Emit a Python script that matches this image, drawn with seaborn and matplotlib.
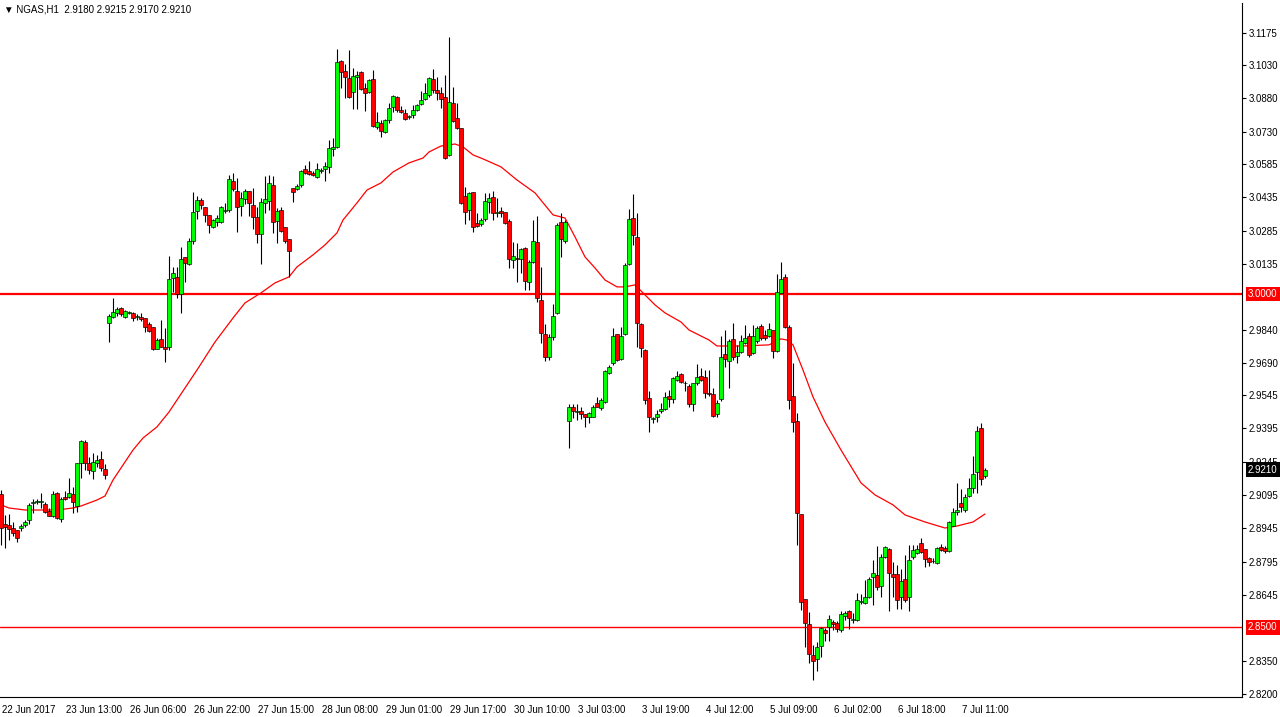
import numpy as np
import pandas as pd
import matplotlib
matplotlib.use("Agg")
import matplotlib.pyplot as plt
from matplotlib.transforms import ScaledTranslation, blended_transform_factory
import seaborn as sns

# set style of visualization
sns.set_style("white")
plt.rcParams["font.family"] = ["Liberation Sans", "DejaVu Sans"]

# =============================================================================
# Data (NGAS, H1)
# =============================================================================

opens = [
    2.9100, 2.8965, 2.8961, 2.8947, 2.8938, 2.8947, 2.8961, 2.8983, 2.9060, 2.9064,
    2.9064, 2.9055, 2.9024, 2.9001, 2.9105, 2.8988, 2.9087, 2.9087, 2.9100, 2.9046,
    2.9240, 2.9334, 2.9240, 2.9204, 2.9240, 2.9258, 2.9213, 2.9870, 2.9897, 2.9915,
    2.9937, 2.9897, 2.9915, 2.9915, 2.9897, 2.9897, 2.9892, 2.9865, 2.9852, 2.9753,
    2.9798, 2.9762, 2.9762, 3.0072, 3.0077, 3.0000, 3.0167, 3.0135, 3.0239, 3.0374,
    3.0423, 3.0392, 3.0356, 3.0302, 3.0324, 3.0324, 3.0374, 3.0378, 3.0509, 3.0464,
    3.0396, 3.0428, 3.0464, 3.0401, 3.0347, 3.0270, 3.0410, 3.0419, 3.0491, 3.0329,
    3.0378, 3.0302, 3.0248, 3.0477, 3.0473, 3.0491, 3.0563, 3.0554, 3.0545, 3.0527,
    3.0554, 3.0563, 3.0572, 3.0653, 3.0662, 3.1049, 3.1004, 3.0972, 3.0909, 3.0977,
    3.0999, 3.0927, 3.0909, 3.0968, 3.0752, 3.0770, 3.0729, 3.0783, 3.0842, 3.0887,
    3.0828, 3.0815, 3.0797, 3.0806, 3.0828, 3.0855, 3.0878, 3.0896, 3.0968, 3.0918,
    3.0905, 3.0887, 3.0626, 3.0860, 3.0792, 3.0747, 3.0441, 3.0378, 3.0459, 3.0320,
    3.0315, 3.0338, 3.0414, 3.0437, 3.0365, 3.0374, 3.0369, 3.0329, 3.0153, 3.0162,
    3.0158, 3.0207, 3.0054, 3.0144, 3.0234, 2.9973, 2.9820, 2.9717, 2.9807, 2.9915,
    3.0324, 3.0239, 2.9429, 2.9492, 2.9469, 2.9474, 2.9460, 2.9447, 2.9447, 2.9510,
    2.9487, 2.9514, 2.9645, 2.9690, 2.9820, 2.9708, 2.9820, 3.0135, 3.0342, 3.0257,
    2.9865, 2.9748, 2.9532, 2.9438, 2.9447, 2.9474, 2.9483, 2.9541, 2.9528, 2.9613,
    2.9640, 2.9600, 2.9586, 2.9505, 2.9600, 2.9631, 2.9627, 2.9555, 2.9550, 2.9460,
    2.9528, 2.9730, 2.9699, 2.9798, 2.9721, 2.9739, 2.9780, 2.9811, 2.9735, 2.9789,
    2.9856, 2.9816, 2.9811, 2.9838, 2.9744, 3.0005, 3.0077, 2.9852, 2.9541, 2.9429,
    2.9010, 2.8628, 2.8515, 2.8376, 2.8358, 2.8416, 2.8488, 2.8502, 2.8524, 2.8520,
    2.8488, 2.8551, 2.8574, 2.8533, 2.8533, 2.8616, 2.8610, 2.8637, 2.8727, 2.8736,
    2.8686, 2.8817, 2.8853, 2.8740, 2.8740, 2.8637, 2.8718, 2.8637, 2.8817, 2.8835,
    2.8880, 2.8853, 2.8812, 2.8798, 2.8790, 2.8862, 2.8857, 2.8844, 2.8956, 2.9019,
    2.9060, 2.9028, 2.9091, 2.9127, 2.9199, 2.9397, 2.9180,
]

highs = [
    2.9118, 2.9006, 2.9010, 2.8974, 2.8938, 2.8965, 2.8983, 2.9060, 2.9078, 2.9078,
    2.9105, 2.9064, 2.9037, 2.9114, 2.9109, 2.9087, 2.9114, 2.9172, 2.9132, 2.9240,
    2.9343, 2.9343, 2.9267, 2.9285, 2.9276, 2.9294, 2.9235, 2.9910, 2.9982, 2.9942,
    2.9942, 2.9928, 2.9924, 2.9919, 2.9910, 2.9915, 2.9892, 2.9874, 2.9852, 2.9802,
    2.9883, 2.9847, 3.0171, 3.0122, 3.0122, 3.0212, 3.0167, 3.0252, 3.0459, 3.0441,
    3.0432, 3.0392, 3.0356, 3.0338, 3.0356, 3.0396, 3.0410, 3.0536, 3.0545, 3.0522,
    3.0459, 3.0473, 3.0464, 3.0477, 3.0392, 3.0432, 3.0531, 3.0536, 3.0531, 3.0387,
    3.0392, 3.0302, 3.0248, 3.0477, 3.0495, 3.0558, 3.0581, 3.0599, 3.0554, 3.0590,
    3.0567, 3.0594, 3.0693, 3.0702, 3.1103, 3.1053, 3.1035, 3.1098, 3.1017, 3.1004,
    3.1004, 3.0950, 3.0968, 3.1008, 3.0819, 3.0783, 3.0788, 3.0860, 3.0896, 3.0891,
    3.0846, 3.0833, 3.0806, 3.0851, 3.0855, 3.0914, 3.0950, 3.0977, 3.1013, 3.0977,
    3.0932, 3.0986, 3.1157, 3.0932, 3.0860, 3.0747, 3.0482, 3.0459, 3.0459, 3.0365,
    3.0342, 3.0455, 3.0455, 3.0464, 3.0432, 3.0392, 3.0369, 3.0338, 3.0234, 3.0230,
    3.0207, 3.0212, 3.0153, 3.0333, 3.0351, 3.0122, 2.9865, 2.9820, 2.9955, 3.0320,
    3.0365, 3.0333, 2.9505, 2.9505, 2.9505, 2.9492, 2.9460, 2.9469, 2.9501, 2.9537,
    2.9532, 2.9658, 2.9681, 2.9847, 2.9820, 2.9852, 3.0140, 3.0383, 3.0450, 3.0365,
    2.9870, 2.9753, 2.9564, 2.9447, 2.9478, 2.9510, 2.9559, 2.9568, 2.9627, 2.9654,
    2.9645, 2.9609, 2.9595, 2.9600, 2.9685, 2.9667, 2.9658, 2.9658, 2.9577, 2.9523,
    2.9811, 2.9838, 2.9798, 2.9870, 2.9771, 2.9816, 2.9860, 2.9825, 2.9860, 2.9856,
    2.9865, 2.9838, 2.9870, 2.9838, 3.0090, 3.0144, 3.0090, 2.9861, 2.9690, 2.9465,
    2.9010, 2.8628, 2.8569, 2.8421, 2.8434, 2.8502, 2.8497, 2.8556, 2.8533, 2.8529,
    2.8574, 2.8574, 2.8578, 2.8565, 2.8655, 2.8650, 2.8713, 2.8727, 2.8803, 2.8866,
    2.8830, 2.8866, 2.8857, 2.8794, 2.8781, 2.8763, 2.8826, 2.8871, 2.8871, 2.8871,
    2.8902, 2.8853, 2.8817, 2.8812, 2.8862, 2.8875, 2.8866, 2.8979, 2.9037, 2.9150,
    2.9123, 2.9100, 2.9172, 2.9271, 2.9406, 2.9420, 2.9215,
]

lows = [
    2.8871, 2.8857, 2.8893, 2.8911, 2.8884, 2.8934, 2.8952, 2.8965, 2.9015, 2.9055,
    2.9037, 2.9015, 2.9001, 2.8997, 2.8988, 2.8974, 2.9073, 2.9082, 2.9015, 2.9019,
    2.9172, 2.9208, 2.9190, 2.9168, 2.9222, 2.9204, 2.9168, 2.9784, 2.9892, 2.9901,
    2.9901, 2.9892, 2.9910, 2.9879, 2.9883, 2.9879, 2.9829, 2.9829, 2.9748, 2.9753,
    2.9762, 2.9694, 2.9748, 3.0009, 2.9982, 2.9915, 3.0054, 3.0131, 3.0225, 3.0338,
    3.0383, 3.0324, 3.0275, 3.0297, 3.0306, 3.0320, 3.0365, 3.0369, 3.0464, 3.0279,
    3.0351, 3.0405, 3.0351, 3.0293, 3.0230, 3.0135, 3.0365, 3.0378, 3.0275, 3.0230,
    3.0279, 3.0230, 3.0077, 3.0414, 3.0468, 3.0482, 3.0540, 3.0536, 3.0531, 3.0522,
    3.0545, 3.0509, 3.0545, 3.0621, 3.0657, 3.0927, 3.0882, 3.0882, 3.0832, 3.0832,
    3.0918, 3.0824, 3.0905, 3.0752, 3.0743, 3.0707, 3.0725, 3.0770, 3.0819, 3.0819,
    3.0815, 3.0783, 3.0788, 3.0792, 3.0824, 3.0851, 3.0873, 3.0887, 3.0905, 3.0873,
    3.0837, 3.0608, 3.0621, 3.0774, 3.0743, 3.0405, 3.0315, 3.0333, 3.0279, 3.0302,
    3.0306, 3.0329, 3.0365, 3.0333, 3.0347, 3.0347, 3.0315, 3.0117, 3.0117, 3.0054,
    3.0095, 3.0018, 3.0018, 3.0140, 2.9964, 2.9780, 2.9699, 2.9703, 2.9793, 2.9910,
    3.0167, 3.0230, 2.9307, 2.9442, 2.9433, 2.9438, 2.9402, 2.9420, 2.9447, 2.9492,
    2.9478, 2.9510, 2.9640, 2.9681, 2.9699, 2.9703, 2.9816, 3.0131, 3.0221, 2.9762,
    2.9717, 2.9505, 2.9379, 2.9420, 2.9424, 2.9465, 2.9478, 2.9492, 2.9510, 2.9609,
    2.9600, 2.9564, 2.9492, 2.9474, 2.9591, 2.9609, 2.9532, 2.9541, 2.9447, 2.9447,
    2.9519, 2.9672, 2.9577, 2.9703, 2.9690, 2.9735, 2.9775, 2.9717, 2.9730, 2.9780,
    2.9793, 2.9793, 2.9807, 2.9712, 2.9739, 3.0005, 2.9847, 2.9483, 2.9379, 2.8871,
    2.8578, 2.8412, 2.8340, 2.8263, 2.8304, 2.8367, 2.8439, 2.8439, 2.8488, 2.8479,
    2.8479, 2.8533, 2.8493, 2.8520, 2.8529, 2.8605, 2.8605, 2.8632, 2.8601, 2.8668,
    2.8637, 2.8812, 2.8574, 2.8637, 2.8583, 2.8583, 2.8614, 2.8574, 2.8808, 2.8830,
    2.8835, 2.8772, 2.8776, 2.8790, 2.8785, 2.8844, 2.8835, 2.8839, 2.8956, 2.9006,
    2.9019, 2.9019, 2.9087, 2.9105, 2.9105, 2.9141, 2.9170,
]

closes = [
    2.8947, 2.8952, 2.8943, 2.8925, 2.8902, 2.8956, 2.8974, 2.9051, 2.9064, 2.9069,
    2.9064, 2.9019, 2.9001, 2.9100, 2.8992, 2.9078, 2.9078, 2.9105, 2.9064, 2.9240,
    2.9339, 2.9240, 2.9208, 2.9244, 2.9253, 2.9217, 2.9186, 2.9901, 2.9919, 2.9933,
    2.9910, 2.9924, 2.9919, 2.9892, 2.9897, 2.9888, 2.9852, 2.9834, 2.9753, 2.9793,
    2.9762, 2.9753, 3.0068, 3.0095, 3.0000, 3.0158, 3.0140, 3.0239, 3.0369, 3.0423,
    3.0401, 3.0356, 3.0311, 3.0333, 3.0342, 3.0392, 3.0378, 3.0518, 3.0473, 3.0392,
    3.0432, 3.0464, 3.0410, 3.0347, 3.0270, 3.0414, 3.0428, 3.0500, 3.0324, 3.0374,
    3.0284, 3.0239, 3.0194, 3.0459, 3.0486, 3.0554, 3.0545, 3.0540, 3.0536, 3.0563,
    3.0558, 3.0576, 3.0657, 3.0662, 3.1044, 3.0999, 3.0977, 3.0887, 3.0981, 3.0986,
    3.0923, 3.0905, 3.0963, 3.0756, 3.0774, 3.0734, 3.0783, 3.0837, 3.0891, 3.0828,
    3.0819, 3.0788, 3.0797, 3.0828, 3.0851, 3.0873, 3.0905, 3.0972, 3.0918, 3.0905,
    3.0878, 3.0612, 3.0864, 3.0779, 3.0747, 3.0410, 3.0369, 3.0455, 3.0302, 3.0306,
    3.0333, 3.0419, 3.0432, 3.0365, 3.0365, 3.0365, 3.0320, 3.0158, 3.0171, 3.0158,
    3.0203, 3.0059, 3.0144, 3.0239, 2.9982, 2.9824, 2.9717, 2.9807, 2.9901, 3.0311,
    3.0248, 3.0324, 2.9492, 2.9474, 2.9469, 2.9460, 2.9447, 2.9465, 2.9492, 2.9492,
    2.9523, 2.9654, 2.9672, 2.9811, 2.9703, 2.9811, 3.0131, 3.0338, 3.0266, 2.9870,
    2.9757, 2.9523, 2.9447, 2.9438, 2.9460, 2.9483, 2.9537, 2.9528, 2.9622, 2.9631,
    2.9604, 2.9598, 2.9505, 2.9600, 2.9627, 2.9613, 2.9555, 2.9552, 2.9451, 2.9510,
    2.9717, 2.9708, 2.9789, 2.9717, 2.9739, 2.9789, 2.9802, 2.9726, 2.9811, 2.9847,
    2.9802, 2.9802, 2.9843, 2.9744, 3.0009, 3.0068, 2.9852, 2.9523, 2.9424, 2.9015,
    2.8614, 2.8520, 2.8380, 2.8349, 2.8412, 2.8497, 2.8475, 2.8538, 2.8515, 2.8493,
    2.8560, 2.8565, 2.8542, 2.8535, 2.8623, 2.8618, 2.8637, 2.8718, 2.8745, 2.8682,
    2.8817, 2.8862, 2.8745, 2.8727, 2.8623, 2.8709, 2.8623, 2.8803, 2.8848, 2.8853,
    2.8839, 2.8808, 2.8794, 2.8800, 2.8857, 2.8848, 2.8844, 2.8974, 2.9019, 2.9028,
    2.9042, 2.9087, 2.9127, 2.9190, 2.9384, 2.9168, 2.9210,
]

# moving average line, read at a number of bars
ma_bars = [
    0, 2, 6, 10, 14, 18, 20, 24, 26, 28, 33, 35.5, 39, 42, 49, 53.5, 58, 61, 65, 68.5,
    72, 74, 78, 81, 84, 85.5, 89, 91.5, 95, 98, 102, 105.5, 107, 110, 113.5, 115.5,
    118, 120.5, 125, 129, 133.5, 138, 141, 143.5, 146, 148.5, 151, 154, 156, 158.5,
    161, 163.5, 166, 170, 172, 177, 179, 185.5, 192, 195, 196.5, 198, 200.5, 203,
    206, 210, 215, 218.5, 223, 226, 231, 236, 239, 243, 246,
]
ma_values = [
    2.9051, 2.9037, 2.9028, 2.9028, 2.9028, 2.9037, 2.9046, 2.9073, 2.9091, 2.9163,
    2.9298, 2.9352, 2.9402, 2.9469, 2.9658, 2.9784, 2.9892, 2.9960, 3.0005, 3.0050,
    3.0077, 3.0122, 3.0176, 3.0221, 3.0275, 3.0333, 3.0410, 3.0468, 3.0500, 3.0549,
    3.0590, 3.0612, 3.0639, 3.0666, 3.0675, 3.0662, 3.0626, 3.0608, 3.0572, 3.0513,
    3.0455, 3.0356, 3.0342, 3.0257, 3.0167, 3.0117, 3.0063, 3.0032, 3.0032, 3.0041,
    2.9996, 2.9951, 2.9915, 2.9874, 2.9838, 2.9793, 2.9766, 2.9766, 2.9771, 2.9798,
    2.9793, 2.9771, 2.9658, 2.9537, 2.9424, 2.9298, 2.9150, 2.9096, 2.9051, 2.9006,
    2.8974, 2.8947, 2.8956, 2.8974, 2.9010,
]

# time axis labels every 16 bars
tick_bars = [0, 16, 32, 48, 64, 80, 96, 112, 128, 144, 160, 176, 192, 208, 224, 240]
tick_labels = [
    "22 Jun 2017", "23 Jun 13:00", "26 Jun 06:00", "26 Jun 22:00", "27 Jun 15:00",
    "28 Jun 08:00", "29 Jun 01:00", "29 Jun 17:00", "30 Jun 10:00", "3 Jul 03:00",
    "3 Jul 19:00", "4 Jul 12:00", "5 Jul 09:00", "6 Jul 02:00", "6 Jul 18:00",
    "7 Jul 11:00",
]

# price scale (the labels under the level boxes are hidden in the original)
price_ticks = [
    3.1175, 3.1030, 3.0880, 3.0730, 3.0585, 3.0435, 3.0285, 3.0135, 2.9840,
    2.9690, 2.9545, 2.9395, 2.9245, 2.9095, 2.8945, 2.8795, 2.8645, 2.8350,
    2.8200,
]
level_lines = [3.0000, 2.8500]
level_widths = [1.6, 1.0]

symbol = "NGAS,H1"

# =============================================================================
# Build data frame
# =============================================================================

data = pd.DataFrame({"open": opens, "high": highs, "low": lows, "close": closes})
data["bar"] = np.arange(len(data))
data["bull"] = data["close"] >= data["open"]
data["body_low"] = data[["open", "close"]].min(axis=1)
data["body_size"] = (data["close"] - data["open"]).abs().clip(lower=0.00025)

last = data.iloc[-1]

# =============================================================================
# Plot
# =============================================================================

fig = plt.figure(figsize=(12.8, 7.17), dpi=100)
ax = fig.add_axes([0.0, 20 / 717, 1242 / 1280, 694 / 717])

# horizontal levels
for level, lw in zip(level_lines, level_widths):
    ax.axhline(level, color="red", linewidth=lw, zorder=1)

# moving average
sns.lineplot(x=ma_bars, y=ma_values, ax=ax, color="red", linewidth=0.9, zorder=2)

# candles: wicks then bodies
ax.vlines(data["bar"], data["low"], data["high"], color="black", linewidth=0.8, zorder=3)
ax.bar(data["bar"], data["body_size"], bottom=data["body_low"], width=0.78,
       color=np.where(data["bull"], "#00ff00", "#ff0000"),
       edgecolor="black", linewidth=0.45, zorder=4)

ax.set_xlim(-0.25, 310.25)
ax.set_ylim(2.81865, 3.13095)

# price axis on the right
ax.yaxis.tick_right()
ax.set_yticks(price_ticks)
ax.set_yticklabels([f"{p:.4f}" for p in price_ticks])
ax.tick_params(axis="y", direction="out", length=3, width=0.8, pad=2, labelsize=7, colors="black")

# time axis
ax.set_xticks(tick_bars)
ax.set_xticklabels(tick_labels, ha="left")
ax.tick_params(axis="x", direction="out", length=4, width=0.8, pad=2, labelsize=7, colors="black")
for lab in ax.get_xticklabels():
    lab.set_transform(lab.get_transform() + ScaledTranslation(1 / 72, 0, fig.dpi_scale_trans))

ax.set_xlabel("")
ax.set_ylabel("")
ax.spines["top"].set_visible(False)
ax.spines["left"].set_visible(False)
for side in ["right", "bottom"]:
    ax.spines[side].set_color("black")
    ax.spines[side].set_linewidth(0.8)

# price boxes on the scale
trans = blended_transform_factory(ax.transAxes, ax.transData)
for level in level_lines:
    ax.text(1.0 + 6 / 1242, level, f"{level:.4f}", transform=trans, ha="left", va="center",
            fontsize=7, color="white", clip_on=False, zorder=10,
            bbox=dict(boxstyle="square,pad=0.25", facecolor="red", edgecolor="none"))
ax.text(1.0 + 6 / 1242, last["close"], f"{last['close']:.4f}", transform=trans, ha="left",
        va="center", fontsize=7, color="white", clip_on=False, zorder=10,
        bbox=dict(boxstyle="square,pad=0.25", facecolor="black", edgecolor="none"))

# header
fig.text(4 / 1280, 1 - 10 / 717,
         f"\u25bc {symbol}  {last['open']:.4f} {last['high']:.4f} {last['low']:.4f} {last['close']:.4f}",
         fontsize=7, ha="left", va="center", color="black",
         family=["Liberation Sans", "DejaVu Sans"])

plt.savefig("out.png", dpi=100)
